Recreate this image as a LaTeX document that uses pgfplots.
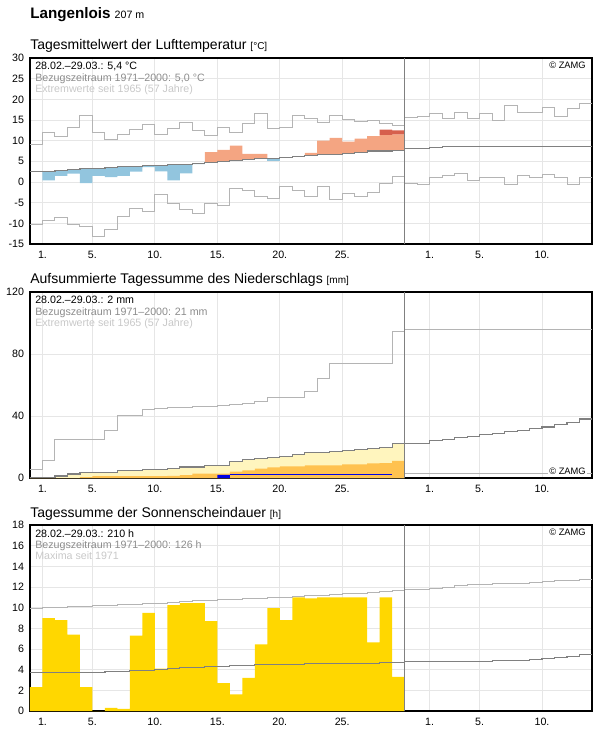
\documentclass[border=0pt]{standalone}
\usepackage{pgfplots}
\pgfplotsset{compat=1.18}
\usepackage{fontspec}
\setmainfont{Liberation Sans}

\definecolor{gridc}{HTML}{E6E6E6}
\definecolor{extc}{HTML}{B4B4B4}
\definecolor{meanc}{HTML}{808080}
\definecolor{tblue}{HTML}{92C5DE}
\definecolor{torange}{HTML}{F4A582}
\definecolor{tred}{HTML}{D6604D}
\definecolor{pyel}{HTML}{FFF5BE}
\definecolor{pora}{HTML}{FFC250}
\definecolor{sun}{HTML}{FFD700}
\definecolor{txttwo}{HTML}{8C8C8C}
\definecolor{txtthree}{HTML}{C8C8C8}
\definecolor{pblue}{HTML}{0000E6}

\pgfplotsset{zamg/.style={
  scale only axis, width=421.5pt, height=139.5pt,
  xmin=0, xmax=45, enlargelimits=false,
  xtick={1,5,10,15,20,25,32,36,41},
  xticklabels={1.,5.,10.,15.,20.,25.,1.,5.,10.},
  grid=major, major grid style={color=gridc, line width=0.6pt},
  major tick length=0pt,
  axis line style={black, line width=0.9pt},
  tick label style={font=\fontsize{8}{9}\selectfont},
  yticklabel style={xshift=-1pt},
  xticklabel style={yshift=-1.5pt},
  /pgf/number format/assume math mode=true,
  anchor=south west,
}}
\newcommand{\annot}[3]{\node[anchor=north west, align=left, inner sep=0pt,
   font=\fontsize{8}{8.6}\selectfont, xshift=3.75pt, yshift=-3pt] at (rel axis cs:0,1)
   {#1\\\textcolor{txttwo}{#2}\\\textcolor{txtthree}{#3}};}

\begin{document}
\begin{tikzpicture}
\useasboundingbox (0,0) rectangle (447pt,-546.75pt);
\node[anchor=base west, inner sep=0pt] at (22.5pt,-13.5pt)
  {\fontsize{11.4}{13}\selectfont\bfseries Langenlois\ {\fontsize{8}{9}\selectfont\mdseries 207 m}};
\node[anchor=base west, inner sep=0pt] at (22.5pt,-36.75pt)
  {\fontsize{10.5}{12}\selectfont Tagesmittelwert der Lufttemperatur {\fontsize{7.5}{9}\selectfont [°C]}};
\node[anchor=base west, inner sep=0pt] at (22.5pt,-212.25pt)
  {\fontsize{10.5}{12}\selectfont Aufsummierte Tagessumme des Niederschlags {\fontsize{7.5}{9}\selectfont [mm]}};
\node[anchor=base west, inner sep=0pt] at (22.5pt,-387.75pt)
  {\fontsize{10.5}{12}\selectfont Tagessumme der Sonnenscheindauer {\fontsize{7.5}{9}\selectfont [h]}};

% ---------------- Temperature ----------------
\begin{axis}[zamg, at={(22.5pt,-183pt)}, ymin=-15, ymax=30, ytick={-15,-10,...,30}]
% below-normal days (mean down to daily value)
\addplot[fill=tblue, draw=none] coordinates {(1,2.6)(2,2.6)(2,2.8)(3,2.8)(3,3.0)(4,3.0)(4,3.3)(6,3.3)(6,3.5)(7,3.5)(7,3.7)(9,3.7)(9,4.0)(11,4.0)(11,4.3)(13,4.3)(13,4.5)(14,4.5)
 (14,4.3)(13,4.3)(13,2.1)(12,2.1)(12,0.4)(11,0.4)(11,2.6)(10,2.6)(10,3.6)(9,3.6)(9,2.5)(8,2.5)(8,1.5)(7,1.5)(7,1.2)(6,1.2)(6,1.5)(5,1.5)(5,-0.25)(4,-0.25)(4,2.0)(3,2.0)(3,1.5)(2,1.5)(2,0.4)(1,0.4)};
\addplot[fill=tblue, draw=none] coordinates {(19,5.6)(20,5.6)(20,5.1)(19,5.1)};
% above-normal days
\addplot[fill=torange, draw=none] coordinates {(14,7.2)(15,7.2)(15,7.8)(16,7.8)(16,8.8)(17,8.8)(17,6.8)(19,6.8)
 (19,5.6)(18,5.6)(18,5.4)(17,5.4)(17,5.2)(16,5.2)(16,5.0)(15,5.0)(15,4.75)(14,4.75)};
\addplot[fill=torange, draw=none] coordinates {(22,7.05)(23,7.05)(23,10.0)(24,10.0)(24,10.7)(25,10.7)(25,9.75)(26,9.75)(26,10.5)(27,10.5)(27,11.1)(28,11.1)(28,11.4)(29,11.4)(29,11.5)(30,11.5)
 (30,7.7)(29,7.7)(29,7.5)(27,7.5)(27,7.2)(26,7.2)(26,7.0)(25,7.0)(25,6.7)(23,6.7)(23,6.4)(22,6.4)};
\addplot[fill=tred, draw=none] coordinates {(28,11.4)(29,11.4)(29,11.5)(30,11.5)(30,12.5)(29,12.5)(29,12.7)(28,12.7)};
% extremes
\addplot[const plot, extc, line width=0.75pt] coordinates {(0,9.0)(1,11.9)(2,10.9)(3,13.1)(4,16.1)(5,11.9)(6,10.4)(7,11.5)(8,12.6)(9,13.9)(10,11.5)(11,13.0)(12,14.3)(13,12.5)(14,11.2)(15,13.1)(16,11.9)(17,14.1)(18,16.6)(19,12.9)(20,13.1)(21,16.2)(22,15.3)(23,14.3)(24,16.1)(25,15.1)(26,14.6)(27,14.8)(28,14.1)(29,13.7)(30,15.6)(31,15.9)(32,16.6)(33,15.4)(34,16.8)(35,15.4)(36,16.6)(37,15.0)(38,18.6)(39,16.8)(40,16.8)(41,18.0)(42,15.9)(43,17.8)(44,19.0)(45,19.0)};
\addplot[const plot, extc, line width=0.75pt] coordinates {(0,-10.2)(1,-9.3)(2,-8.5)(3,-10.2)(4,-10.8)(5,-13.2)(6,-11.5)(7,-8.3)(8,-6.3)(9,-7.2)(10,-3.1)(11,-5.3)(12,-6.7)(13,-7.5)(14,-5.1)(15,-5.6)(16,-1.6)(17,-2.0)(18,-3.4)(19,-4.1)(20,-1.0)(21,-2.1)(22,-3.4)(23,-1.0)(24,-4.3)(25,-2.9)(26,-3.4)(27,-2.6)(28,-0.4)(29,1.3)(30,-0.25)(31,-0.7)(32,1.0)(33,1.5)(34,2.0)(35,0.3)(36,1.2)(37,1.2)(38,-0.5)(39,1.5)(40,1.0)(41,1.7)(42,1.2)(43,-0.5)(44,1.0)(45,1.0)};
% mean
\addplot[const plot, meanc, line width=0.85pt] coordinates {(0,2.6)(1,2.6)(2,2.8)(3,3.0)(4,3.3)(5,3.3)(6,3.5)(7,3.7)(8,3.7)(9,4.0)(10,4.0)(11,4.3)(12,4.3)(13,4.5)(14,4.75)(15,5.0)(16,5.2)(17,5.4)(18,5.6)(19,5.6)(20,5.9)(21,6.1)(22,6.4)(23,6.7)(24,6.7)(25,7.0)(26,7.2)(27,7.5)(28,7.5)(29,7.7)(30,8.05)(31,8.05)(32,8.3)(33,8.5)(44,8.5)(45,8.5)};
\addplot[meanc, line width=0.75pt] coordinates {(30,-15)(30,30)};
\annot{28.02.–29.03.: 5,4 °C}{Bezugszeitraum 1971–2000: 5,0 °C}{Extremwerte seit 1965 (57 Jahre)}
\node[anchor=north east, inner sep=0pt, font=\fontsize{7}{8}\selectfont, xshift=-4.5pt, yshift=-3pt] at (rel axis cs:1,1) {© ZAMG};
\end{axis}

% ---------------- Precipitation ----------------
\begin{axis}[zamg, at={(22.5pt,-358.5pt)}, ymin=0, ymax=120, ytick={0,40,80,120}]
\addplot[const plot, fill=pyel, draw=none] coordinates {(0,0.3)(1,0.3)(2,1.3)(3,2.6)(4,3.4)(5,3.4)(6,3.4)(7,4.7)(8,4.7)(9,5.3)(10,5.3)(11,6.4)(12,7.1)(13,7.1)(14,8.3)(15,8.3)(16,10.9)(17,12.2)(18,12.8)(19,13.5)(20,14.1)(21,15.4)(22,16.7)(23,16.7)(24,17.3)(25,18.0)(26,18.6)(27,19.3)(28,19.9)(29,22.0)(30,22.0)} \closedcycle;
\addplot[const plot, fill=pora, draw=none] coordinates {(0,0)(1,0)(2,0)(3,0)(4,0.6)(5,1.2)(6,1.2)(7,1.2)(8,1.2)(9,1.2)(10,1.2)(11,1.4)(12,1.9)(13,2.8)(14,2.8)(15,2.8)(16,4.1)(17,4.9)(18,6.0)(19,6.8)(20,7.5)(21,7.5)(22,8.1)(23,8.1)(24,8.1)(25,8.8)(26,8.8)(27,9.4)(28,9.6)(29,11.1)(30,11.1)} \closedcycle;
\addplot[const plot, fill=pblue, draw=none] coordinates {(15,2.0)(16,2.0)} \closedcycle;
\addplot[pblue, line width=0.75pt] coordinates {(16,2.0)(29,2.0)};
\addplot[const plot, extc, line width=0.75pt] coordinates {(0,5.8)(1,11.6)(2,25.0)(3,25.0)(4,25.0)(5,25.0)(6,30.8)(7,40.2)(8,40.2)(9,44.3)(10,45.1)(11,45.3)(12,45.3)(13,46.2)(14,46.4)(15,46.8)(16,47.6)(17,48.1)(18,49.6)(19,52.2)(20,52.2)(21,52.2)(22,55.8)(23,64.2)(24,73.8)(25,73.8)(26,73.8)(27,73.8)(28,73.8)(29,94.3)(30,95.5)(45,95.5)};
\addplot[extc, line width=0.75pt] coordinates {(30,2.8)(45,2.8)};
\addplot[const plot, meanc, line width=0.85pt] coordinates {(0,0.3)(1,0.3)(2,1.3)(3,2.6)(4,3.4)(5,3.4)(6,3.4)(7,4.7)(8,4.7)(9,5.3)(10,5.3)(11,6.4)(12,7.1)(13,7.1)(14,8.3)(15,8.3)(16,10.9)(17,12.2)(18,12.8)(19,13.5)(20,14.1)(21,15.4)(22,16.7)(23,16.7)(24,17.3)(25,18.0)(26,18.6)(27,19.3)(28,19.9)(29,22.0)(30,22.5)(31,22.5)(32,24.4)(33,25.0)(34,25.9)(35,26.7)(36,27.8)(37,28.7)(38,30.2)(39,30.8)(40,32.1)(41,32.9)(42,34.4)(43,35.9)(44,38.1)(45,38.1)};
\addplot[meanc, line width=0.75pt] coordinates {(30,0)(30,120)};
\annot{28.02.–29.03.: 2 mm}{Bezugszeitraum 1971–2000: 21 mm}{Extremwerte seit 1965 (57 Jahre)}
\node[anchor=south east, fill=white, inner sep=1pt, font=\fontsize{7}{8}\selectfont, xshift=-3.5pt, yshift=1pt] at (rel axis cs:1,0) {© ZAMG};
\end{axis}

% ---------------- Sunshine ----------------
\begin{axis}[zamg, at={(22.5pt,-533.25pt)}, ymin=0, ymax=18, ytick={0,2,...,18}]
\addplot[const plot, fill=sun, draw=none] coordinates {(0,2.3)(1,9.0)(2,8.8)(3,7.4)(4,2.3)(5,0)(6,0.3)(7,0.2)(8,7.3)(9,9.5)(10,4.1)(11,10.25)(12,10.45)(13,10.45)(14,8.7)(15,2.7)(16,1.6)(17,3.2)(18,6.45)(19,9.95)(20,8.8)(21,11.0)(22,10.9)(23,11.0)(24,11.0)(25,11.0)(26,11.0)(27,6.65)(28,11.0)(29,3.3)(30,3.3)} \closedcycle;
\addplot[const plot, extc, line width=0.75pt] coordinates {(0,9.95)(1,10.0)(2,10.05)(3,10.1)(4,10.15)(5,10.2)(6,10.25)(7,10.3)(8,10.35)(9,10.4)(10,10.45)(11,10.5)(12,10.55)(13,10.65)(14,10.7)(15,10.75)(16,10.8)(17,10.85)(18,10.9)(19,10.95)(20,11.0)(21,11.1)(22,11.15)(23,11.2)(24,11.3)(25,11.35)(26,11.4)(27,11.5)(28,11.55)(29,11.65)(30,11.8)(31,11.8)(32,11.9)(33,12.0)(34,12.1)(35,12.2)(36,12.2)(37,12.3)(38,12.35)(39,12.35)(40,12.45)(41,12.55)(42,12.65)(43,12.65)(44,12.75)(45,12.75)};
\addplot[const plot, meanc, line width=0.85pt] coordinates {(0,3.7)(1,3.7)(2,3.7)(3,3.7)(4,3.7)(5,3.7)(6,3.8)(7,3.8)(8,3.9)(9,3.9)(10,4.0)(11,4.1)(12,4.2)(13,4.2)(14,4.3)(15,4.3)(16,4.4)(17,4.4)(18,4.5)(19,4.5)(20,4.5)(21,4.5)(22,4.6)(23,4.6)(24,4.6)(25,4.6)(26,4.6)(27,4.6)(28,4.7)(29,4.7)(30,4.8)(31,4.8)(32,4.8)(33,4.8)(34,4.8)(35,4.8)(36,4.8)(37,4.85)(38,4.85)(39,4.85)(40,4.95)(41,5.05)(42,5.15)(43,5.25)(44,5.45)(45,5.45)};
\addplot[meanc, line width=0.75pt] coordinates {(30,0)(30,18)};
\annot{28.02.–29.03.: 210 h}{Bezugszeitraum 1971–2000: 126 h}{Maxima seit 1971}
\node[anchor=north east, inner sep=0pt, font=\fontsize{7}{8}\selectfont, xshift=-4.5pt, yshift=-3pt] at (rel axis cs:1,1) {© ZAMG};
\end{axis}
\end{tikzpicture}
\end{document}
